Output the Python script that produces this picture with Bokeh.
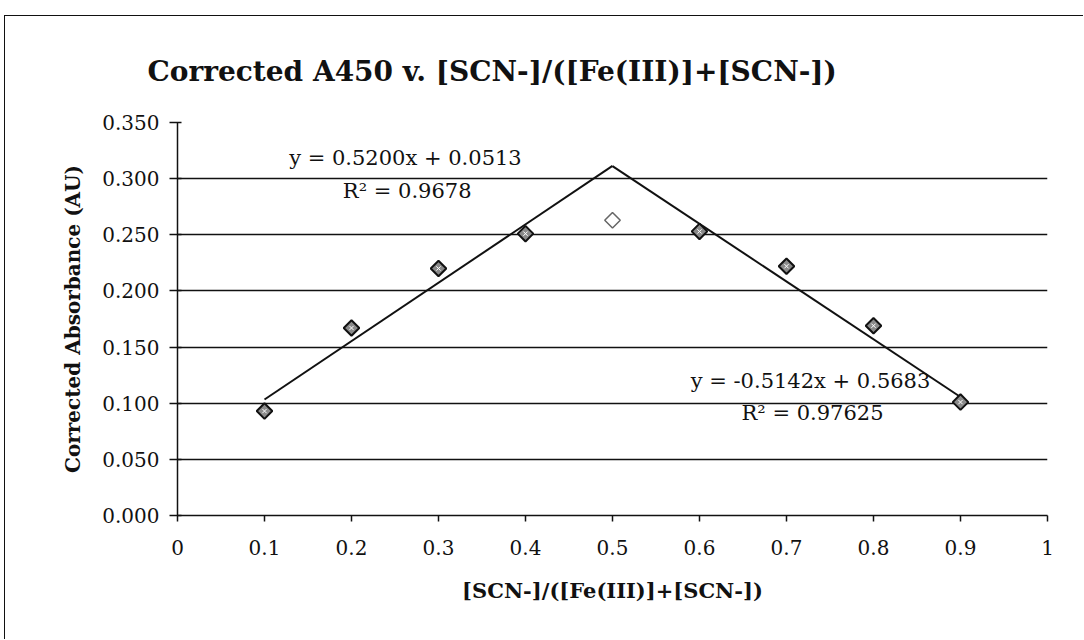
from bokeh.plotting import figure
from bokeh.models import Range1d, FixedTicker, NumeralTickFormatter, Label
from bokeh.embed import file_html
from bokeh.resources import INLINE

# Mole-fraction (Job's method) data
x_rising = [0.1, 0.2, 0.3, 0.4]
a_rising = [0.093, 0.167, 0.220, 0.251]
x_peak = [0.5]
a_peak = [0.263]
x_falling = [0.6, 0.7, 0.8, 0.9]
a_falling = [0.253, 0.222, 0.169, 0.101]

# Linear trendlines (slope, intercept, R^2) and the span each one is drawn over
fit_rising = (0.5200, 0.0513, 0.9678)
span_rising = [0.1, 0.5]
fit_falling = (-0.5142, 0.5683, 0.97625)
span_falling = [0.5, 0.9]

x_ticks = [0, 0.1, 0.2, 0.3, 0.4, 0.5, 0.6, 0.7, 0.8, 0.9, 1]
x_tick_labels = ["0", "0.1", "0.2", "0.3", "0.4", "0.5", "0.6", "0.7", "0.8", "0.9", "1"]
y_ticks = [0, 0.05, 0.10, 0.15, 0.20, 0.25, 0.30, 0.35]

title_text = "Corrected A450 v. [SCN-]/([Fe(III)]+[SCN-])"
x_label = "[SCN-]/([Fe(III)]+[SCN-])"
y_label = "Corrected Absorbance (AU)"

SERIF = "DejaVu Serif"

p = figure(width=1079, height=624, output_backend="svg", toolbar_location=None,
           x_range=Range1d(0, 1), y_range=Range1d(0, 0.35),
           min_border_left=172, min_border_right=37,
           min_border_top=106, min_border_bottom=125,
           title=title_text)
p.margin = (15, 0, 0, 4)
p.styles = {"border-left": "1.5px solid #111", "border-top": "1.5px solid #111"}
p.background_fill_color = "white"
p.border_fill_color = "white"
p.outline_line_color = None

p.title.text_font = SERIF
p.title.text_font_style = "bold"
p.title.text_font_size = "28px"
p.title.text_color = "#111"
p.title.align = "left"
p.title.offset = -30
p.title.standoff = 69

# axes
for ax in (p.xaxis[0], p.yaxis[0]):
    ax.axis_line_color = "#111"
    ax.axis_line_width = 1.5
    ax.major_tick_line_color = "#111"
    ax.major_tick_line_width = 1.5
    ax.minor_tick_line_color = None
    ax.major_label_text_font = SERIF
    ax.major_label_text_font_size = "20px"
    ax.major_label_text_color = "#111"
    ax.axis_label_text_font = SERIF
    ax.axis_label_text_font_style = "bold"
    ax.axis_label_text_color = "#111"

p.xaxis.ticker = FixedTicker(ticks=x_ticks)
p.xaxis.major_label_overrides = {t: s for t, s in zip(x_ticks, x_tick_labels)}
p.xaxis.major_tick_out = 6
p.xaxis.major_tick_in = 0
p.xaxis.major_label_standoff = 18
p.xaxis.axis_label = x_label
p.xaxis.axis_label_text_font_size = "21px"
p.xaxis.axis_label_standoff = 20

p.yaxis.ticker = FixedTicker(ticks=y_ticks)
p.yaxis.formatter = NumeralTickFormatter(format="0.000")
p.yaxis.major_tick_out = 8
p.yaxis.major_tick_in = 4
p.yaxis.major_label_standoff = 10
p.yaxis.axis_label = y_label
p.yaxis.axis_label_text_font_size = "20px"
p.yaxis.axis_label_standoff = 14

p.xgrid.grid_line_color = None
p.ygrid.grid_line_color = "#111"
p.ygrid.grid_line_width = 1.5

# trendlines
for (m, b, _), span in ((fit_rising, span_rising), (fit_falling, span_falling)):
    p.line(span, [m * v + b for v in span], line_color="#111", line_width=2)

# data markers
for xs, ys in ((x_rising, a_rising), (x_falling, a_falling)):
    p.scatter(xs, ys, marker="square", angle=0.785398, size=11,
              fill_color="#8a8a8a", line_color="#111", line_width=2)
    p.scatter(xs, ys, marker="x", size=6, line_color="white", line_width=1)
p.scatter(x_peak, a_peak, marker="square", angle=0.785398, size=11,
          fill_color="white", line_color="#666", line_width=1.5)

# equation labels
def eq_text(m, b):
    sign = "+" if b >= 0 else "-"
    return f"y = {m:.4f}x {sign} {abs(b):.4f}"

labels = [
    (0.262, 0.3188, eq_text(fit_rising[0], fit_rising[1])),
    (0.264, 0.2894, f"R\u00b2 = {fit_rising[2]}"),
    (0.7276, 0.1202, eq_text(fit_falling[0], fit_falling[1])),
    (0.7299, 0.0917, f"R\u00b2 = {fit_falling[2]}"),
]
for lx, ly, txt in labels:
    p.add_layout(Label(x=lx, y=ly, text=txt, text_font=SERIF, text_font_size="21px",
                       text_color="#111", text_align="center", text_baseline="middle"))

open("out.html", "w").write(file_html(p, INLINE))
